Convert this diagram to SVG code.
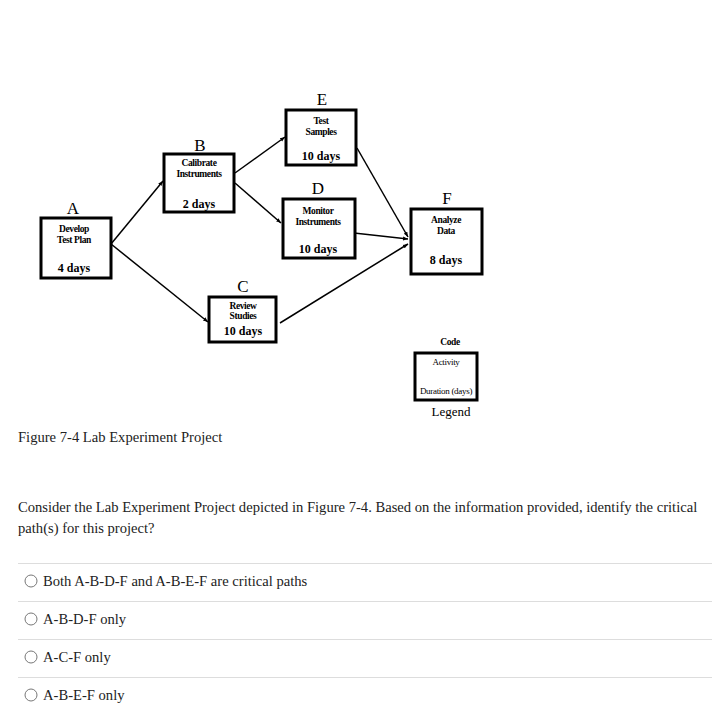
<svg xmlns="http://www.w3.org/2000/svg" width="718" height="713" viewBox="0 0 718 713">
<defs>
<marker id="arr" viewBox="0 0 10 10" refX="10" refY="5" markerWidth="5" markerHeight="5" orient="auto" markerUnits="userSpaceOnUse">
<path d="M0,1 L10,5 L0,9 z" fill="#000"/>
</marker>
</defs>
<style>
.box{fill:#fff;stroke:#000;stroke-width:3}
.lbl{font-family:"Liberation Serif",serif;font-size:17px;text-anchor:middle;fill:#000}
.act{font-family:"Liberation Serif",serif;font-size:9.5px;font-weight:bold;text-anchor:middle;fill:#000;letter-spacing:-0.4px}
.dur{font-family:"Liberation Serif",serif;font-size:12px;font-weight:bold;text-anchor:middle;fill:#000}
.leg{font-family:"Liberation Serif",serif;font-size:9px;text-anchor:middle;fill:#000;letter-spacing:-0.3px}
.con{stroke:#000;stroke-width:1.5;fill:none;marker-end:url(#arr)}
.txt{font-family:"Liberation Serif",serif;font-size:14.6px;fill:#222}
.sep{stroke:#ddd;stroke-width:1}
.radio{fill:#fff;stroke:#777;stroke-width:1}
</style>
<rect width="718" height="713" fill="#fff"/>
<g id="connectors">
<line class="con" x1="111" y1="244" x2="163" y2="181"/>
<line class="con" x1="111" y1="244" x2="208" y2="322"/>
<line class="con" x1="235" y1="173" x2="285" y2="137"/>
<line class="con" x1="235" y1="183" x2="281" y2="223"/>
<line class="con" x1="357" y1="148" x2="408" y2="237"/>
<line class="con" x1="354" y1="233" x2="408" y2="239"/>
<line class="con" x1="280" y1="323" x2="408" y2="244"/>
</g>
<g id="nodeA">
<text class="lbl" x="73" y="214">A</text>
<rect class="box" x="41" y="218" width="70" height="60"/>
<text class="act" x="74" y="232">Develop</text>
<text class="act" x="74" y="243">Test Plan</text>
<text class="dur" x="74" y="272">4 days</text>
</g>
<g id="nodeB">
<text class="lbl" x="200" y="151">B</text>
<rect class="box" x="164" y="154" width="70" height="58"/>
<text class="act" x="199" y="166">Calibrate</text>
<text class="act" x="199" y="177">Instruments</text>
<text class="dur" x="199" y="208">2 days</text>
</g>
<g id="nodeE">
<text class="lbl" x="322" y="105">E</text>
<rect class="box" x="286" y="110" width="70" height="55"/>
<text class="act" x="321" y="124">Test</text>
<text class="act" x="321" y="135">Samples</text>
<text class="dur" x="321" y="160">10 days</text>
</g>
<g id="nodeD">
<text class="lbl" x="318" y="194">D</text>
<rect class="box" x="283" y="199" width="72" height="59"/>
<text class="act" x="318" y="214">Monitor</text>
<text class="act" x="318" y="225">Instruments</text>
<text class="dur" x="318" y="253">10 days</text>
</g>
<g id="nodeC">
<text class="lbl" x="243" y="292">C</text>
<rect class="box" x="209" y="297" width="67" height="45"/>
<text class="act" x="243" y="309">Review</text>
<text class="act" x="243" y="319">Studies</text>
<text class="dur" x="243" y="335">10 days</text>
</g>
<g id="nodeF">
<text class="lbl" x="447" y="204">F</text>
<rect class="box" x="411" y="209" width="71" height="65"/>
<text class="act" x="446" y="223">Analyze</text>
<text class="act" x="446" y="234">Data</text>
<text class="dur" x="446" y="264">8 days</text>
</g>
<g id="legend">
<text class="act" x="450" y="345">Code</text>
<rect class="box" x="415" y="353" width="62" height="47"/>
<text class="leg" x="446" y="365">Activity</text>
<text class="leg" x="446" y="394">Duration (days)</text>
<text class="lbl" x="451" y="416" style="font-size:13px">Legend</text>
</g>
<text class="txt" x="18" y="442">Figure 7-4 Lab Experiment Project</text>
<text class="txt" x="18" y="512">Consider the Lab Experiment Project depicted in Figure 7-4. Based on the information provided, identify the critical</text>
<text class="txt" x="18" y="533">path(s) for this project?</text>
<g id="options">
<line class="sep" x1="18" y1="563.5" x2="712" y2="563.5"/>
<line class="sep" x1="18" y1="601.5" x2="712" y2="601.5"/>
<line class="sep" x1="18" y1="639.5" x2="712" y2="639.5"/>
<line class="sep" x1="18" y1="677.5" x2="712" y2="677.5"/>
<circle class="radio" cx="31" cy="581" r="6"/>
<circle class="radio" cx="31" cy="619" r="6"/>
<circle class="radio" cx="31" cy="657" r="6"/>
<circle class="radio" cx="31" cy="695" r="6"/>
<text class="txt" x="43" y="586">Both A-B-D-F and A-B-E-F are critical paths</text>
<text class="txt" x="43" y="624">A-B-D-F only</text>
<text class="txt" x="43" y="662">A-C-F only</text>
<text class="txt" x="43" y="700">A-B-E-F only</text>
</g>
</svg>
